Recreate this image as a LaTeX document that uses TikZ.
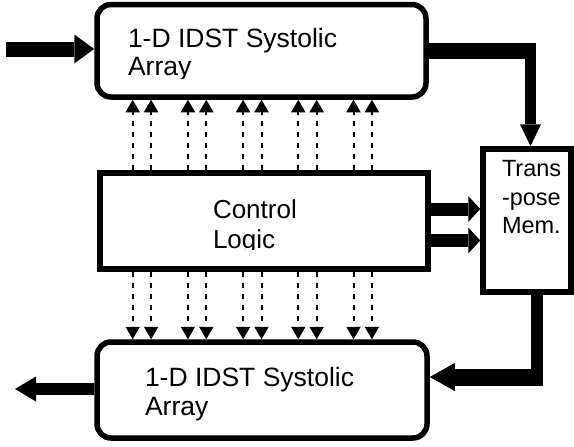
\documentclass[tikz,border=0pt]{standalone}
\usepackage{fontspec}
\setmainfont{Liberation Sans}
\usetikzlibrary{arrows.meta}
\begin{document}
\begin{tikzpicture}[x=1pt,y=-1pt,
  sysbox/.style={draw, line width=5.5pt, rounded corners=14pt, inner sep=0pt, outer sep=2.75pt},
  plainbox/.style={draw, line width=5.5pt, inner sep=0pt, outer sep=2.75pt},
  lbl/.style={inner sep=0pt, outer sep=0pt, anchor=base west},
  ctlarrow/.style={line width=2pt, dash pattern=on 5.5pt off 5.5pt,
    -{Triangle[length=12.5pt,width=14.5pt,line width=0pt]}},
]
\fill[white] (0,0) rectangle (574,447);
\useasboundingbox (0,0) rectangle (574,447);

% blocks
\node[sysbox, minimum width=329pt, minimum height=92.5pt] (top) at (261.5,50.75) {};
\node[plainbox, minimum width=328pt, minimum height=96pt] (ctrl) at (264,221) {};
\node[sysbox, minimum width=330pt, minimum height=96pt] (bot) at (262,390) {};
\node[plainbox, minimum width=88pt, minimum height=143pt] (mem) at (527,220.5) {};

% labels (text boxes clip their last line)
\begin{scope}
  \clip (97,4) rectangle (426,78.5);
  \node[lbl, font=\fontsize{26.5}{28.5}\selectfont] (toptxt) at (128,47)
    {\begin{tabular}[t]{@{}l@{}}1-D IDST Systolic\\Array\end{tabular}};
\end{scope}
\begin{scope}
  \clip (100,173) rectangle (428,249.5);
  \node[lbl, font=\fontsize{26}{30.5}\selectfont] (ctrltxt) at (213,218)
    {\begin{tabular}[t]{@{}l@{}}Control\\Logic\end{tabular}};
\end{scope}
\begin{scope}
  \clip (97,342) rectangle (427,420.5);
  \node[lbl, font=\fontsize{26.5}{29}\selectfont] (bottxt) at (145,386.7)
    {\begin{tabular}[t]{@{}l@{}}1-D IDST Systolic\\Array\end{tabular}};
\end{scope}
\node[lbl, font=\fontsize{23.5}{28.3}\selectfont] (memtxt) at (502,176.7)
  {\begin{tabular}[t]{@{}l@{}}Trans\\-pose\\Mem.\end{tabular}};

% data input and output
\coordinate (src) at (6,49);
\draw[line width=15pt, -{Triangle[length=20pt,width=29pt,line width=0pt]}]
  (src) -- (src -| top.west);
\coordinate (snk) at (15,389);
\draw[line width=12pt, -{Triangle[length=21pt,width=25pt,line width=0pt]}]
  (snk -| bot.west) -- (snk);

% first pass into transpose memory
\coordinate (bend1) at (530.5,50.75);
\draw[line width=15.5pt] (top.east) -- ([xshift=5.5pt]bend1);
\draw[line width=11pt, -{Triangle[length=22pt,width=21pt,line width=0pt]}]
  ([yshift=7.75pt]bend1) -- (bend1 |- mem.north);

% control into transpose memory
\coordinate (c1) at ([yshift=12pt]ctrl.east);
\coordinate (c2) at ([yshift=-19.5pt]ctrl.east);
\draw[line width=13pt, -{Triangle[length=12pt,width=26pt,line width=0pt]}]
  (c1) -- (c1 -| mem.west);
\draw[line width=13pt, -{Triangle[length=12pt,width=26pt,line width=0pt]}]
  (c2) -- (c2 -| mem.west);

% transpose memory out to second pass
\coordinate (bend2) at (537,377);
\draw[line width=12.6pt] ([xshift=10pt]mem.south) -- ([yshift=-8.5pt]bend2);
\draw[line width=17pt, -{Triangle[length=25pt,width=28pt,line width=0pt]}]
  ([xshift=6.3pt]bend2) -- (bend2 -| bot.east);

% control signals
\foreach \x in {132.7,151.1,187.9,206.3,243.1,261.5,298.3,316.7,353.5,371.9} {
  \draw[ctlarrow] (\x,0 |- ctrl.north) -- (\x,0 |- top.south);
  \draw[ctlarrow] (\x,0 |- ctrl.south) -- (\x,0 |- bot.north);
}
\end{tikzpicture}
\end{document}
